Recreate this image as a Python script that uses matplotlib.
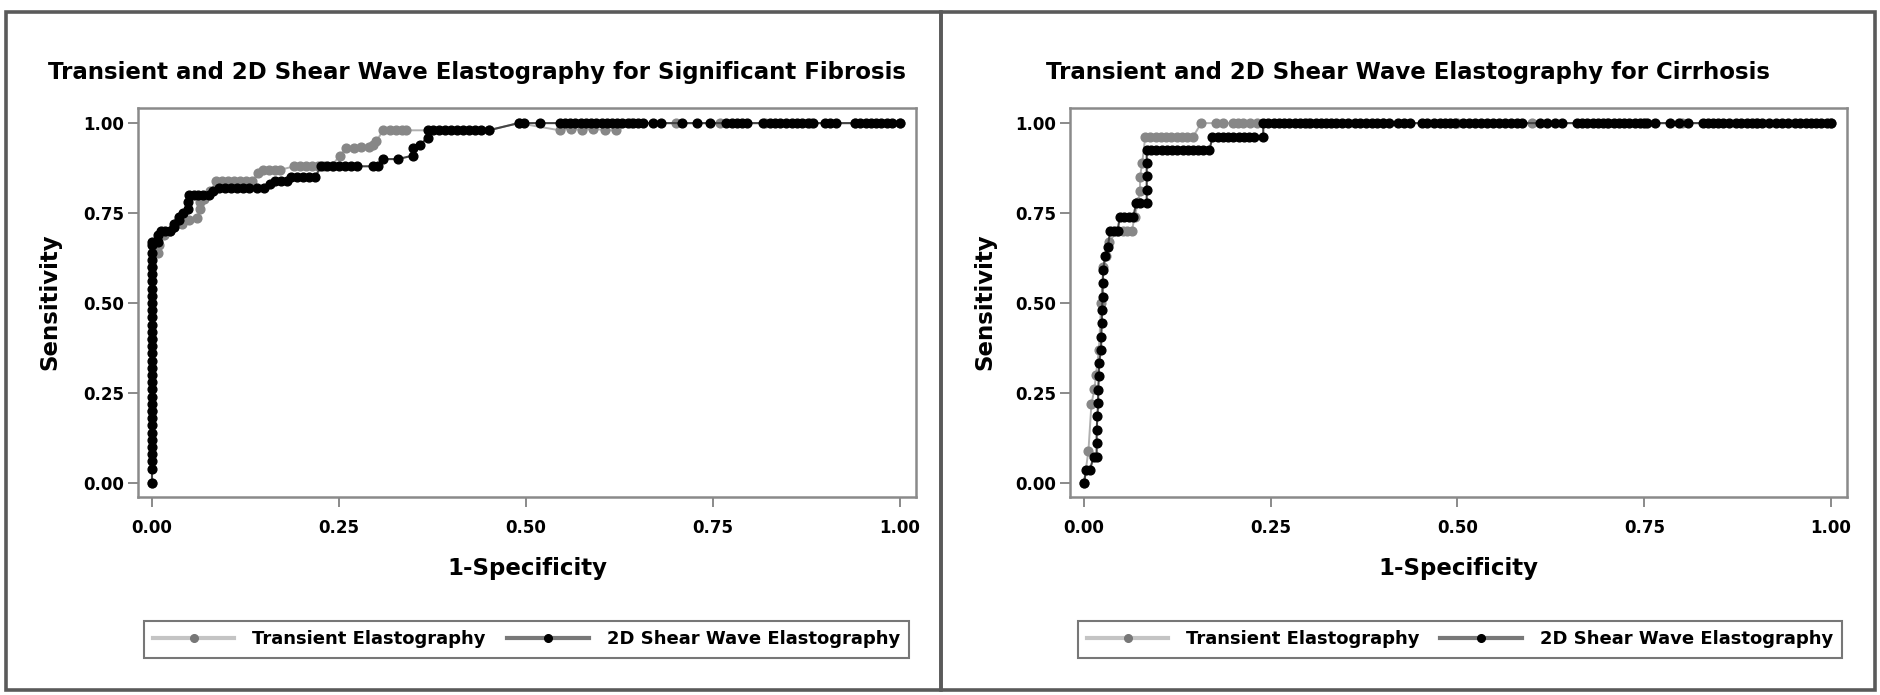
import matplotlib
matplotlib.use("Agg")
import matplotlib.pyplot as plt
from matplotlib.patches import Rectangle
from matplotlib.lines import Line2D

plt.rcParams['font.family'] = ['DejaVu Sans']
plt.rcParams['font.weight'] = 'bold'

W, H = 1881, 695

# ---- Significant fibrosis ----
sf_swe_x = [0.000, 0.000, 0.000, 0.000, 0.000, 0.000, 0.000, 0.000, 0.000, 0.000,
            0.000, 0.000, 0.000, 0.000, 0.000, 0.000, 0.000, 0.000, 0.000, 0.000,
            0.000, 0.000, 0.000, 0.000, 0.000, 0.000, 0.000, 0.000, 0.000, 0.000,
            0.000, 0.000, 0.000, 0.000,
            0.008, 0.008, 0.012, 0.018, 0.024, 0.030, 0.030, 0.036, 0.036, 0.042,
            0.048, 0.048, 0.050, 0.056, 0.062, 0.068, 0.076, 0.082, 0.090, 0.098,
            0.106, 0.114, 0.122, 0.130, 0.140, 0.150, 0.158, 0.165, 0.172, 0.180,
            0.186, 0.194, 0.202, 0.210, 0.218, 0.226, 0.234, 0.242, 0.250, 0.258,
            0.266, 0.274, 0.296, 0.302, 0.309, 0.329, 0.349, 0.349, 0.358, 0.369,
            0.369, 0.376, 0.384, 0.392, 0.400, 0.408, 0.416, 0.424, 0.432, 0.440,
            0.450, 0.490, 0.498, 0.519, 0.545, 0.552, 0.559, 0.566, 0.573, 0.580,
            0.587, 0.594, 0.601, 0.608, 0.615, 0.622, 0.629, 0.636, 0.643, 0.650,
            0.657, 0.670, 0.680, 0.708, 0.728, 0.746, 0.768, 0.775, 0.782, 0.789,
            0.795, 0.817, 0.826, 0.833, 0.840, 0.848, 0.855, 0.862, 0.869, 0.877,
            0.884, 0.900, 0.907, 0.915, 0.940, 0.947, 0.954, 0.961, 0.968, 0.975,
            0.982, 0.989, 1.000]
sf_swe_y = [0.00, 0.04, 0.06, 0.08, 0.10, 0.12, 0.14, 0.16, 0.18, 0.20,
            0.22, 0.24, 0.26, 0.28, 0.30, 0.32, 0.34, 0.36, 0.38, 0.40,
            0.42, 0.44, 0.46, 0.48, 0.50, 0.52, 0.54, 0.56, 0.58, 0.60,
            0.62, 0.64, 0.66, 0.67,
            0.67, 0.69, 0.70, 0.70, 0.70, 0.71, 0.72, 0.73, 0.74, 0.75,
            0.76, 0.78, 0.80, 0.80, 0.80, 0.80, 0.80, 0.81, 0.82, 0.82,
            0.82, 0.82, 0.82, 0.82, 0.82, 0.82, 0.83, 0.84, 0.84, 0.84,
            0.85, 0.85, 0.85, 0.85, 0.85, 0.88, 0.88, 0.88, 0.88, 0.88,
            0.88, 0.88, 0.88, 0.88, 0.90, 0.90, 0.91, 0.93, 0.94, 0.96,
            0.98, 0.98, 0.98, 0.98, 0.98, 0.98, 0.98, 0.98, 0.98, 0.98,
            0.98, 1.00, 1.00, 1.00, 1.00, 1.00, 1.00, 1.00, 1.00, 1.00,
            1.00, 1.00, 1.00, 1.00, 1.00, 1.00, 1.00, 1.00, 1.00, 1.00,
            1.00, 1.00, 1.00, 1.00, 1.00, 1.00, 1.00, 1.00, 1.00, 1.00,
            1.00, 1.00, 1.00, 1.00, 1.00, 1.00, 1.00, 1.00, 1.00, 1.00,
            1.00, 1.00, 1.00, 1.00, 1.00, 1.00, 1.00, 1.00, 1.00, 1.00,
            1.00, 1.00, 1.00]

sf_te_x = [0.000, 0.000, 0.000, 0.000, 0.008, 0.010, 0.016, 0.024, 0.030, 0.040,
           0.050, 0.060, 0.064, 0.064, 0.070, 0.078, 0.086, 0.094, 0.102, 0.110,
           0.118, 0.126, 0.134, 0.142, 0.148, 0.156, 0.165, 0.171, 0.190, 0.198,
           0.206, 0.214, 0.222, 0.230, 0.240, 0.251, 0.260, 0.270, 0.280, 0.290,
           0.296, 0.300, 0.309, 0.318, 0.326, 0.334, 0.340, 0.450, 0.490, 0.545,
           0.560, 0.575, 0.590, 0.605, 0.620, 0.640, 0.700, 0.760, 0.820, 0.880,
           0.940, 1.000]
sf_te_y = [0.00, 0.20, 0.40, 0.60, 0.64, 0.66, 0.69, 0.70, 0.71, 0.72,
           0.73, 0.735, 0.76, 0.78, 0.79, 0.81, 0.84, 0.84, 0.84, 0.84,
           0.84, 0.84, 0.84, 0.86, 0.87, 0.87, 0.87, 0.87, 0.88, 0.88,
           0.88, 0.88, 0.88, 0.88, 0.88, 0.91, 0.93, 0.93, 0.935, 0.935,
           0.94, 0.95, 0.98, 0.98, 0.98, 0.98, 0.98, 0.98, 1.00, 0.98,
           0.985, 0.98, 0.985, 0.98, 0.98, 1.00, 1.00, 1.00, 1.00, 1.00,
           1.00, 1.00]

# ---- Cirrhosis ----
ci_swe_x = [0.000, 0.003, 0.008, 0.013, 0.017, 0.017, 0.017, 0.018, 0.019, 0.019,
            0.020, 0.020, 0.023, 0.023, 0.024, 0.024, 0.025, 0.025, 0.026, 0.028,
            0.032, 0.035, 0.040, 0.045, 0.048, 0.054, 0.060, 0.066, 0.070, 0.075,
            0.084, 0.084, 0.084, 0.084, 0.084, 0.090, 0.097, 0.104, 0.111, 0.118,
            0.125, 0.132, 0.139, 0.146, 0.153, 0.160, 0.168, 0.172, 0.179, 0.186,
            0.193, 0.200, 0.207, 0.214, 0.221, 0.228, 0.240, 0.240, 0.247, 0.254,
            0.261, 0.268, 0.275, 0.282, 0.289, 0.296, 0.303, 0.310, 0.317, 0.324,
            0.331, 0.338, 0.345, 0.353, 0.363, 0.370, 0.377, 0.385, 0.392, 0.400,
            0.408, 0.420, 0.428, 0.437, 0.452, 0.459, 0.469, 0.476, 0.483, 0.490,
            0.497, 0.507, 0.515, 0.523, 0.531, 0.539, 0.547, 0.555, 0.563, 0.571,
            0.579, 0.586, 0.610, 0.620, 0.630, 0.640, 0.660, 0.667, 0.674, 0.681,
            0.688, 0.695, 0.702, 0.709, 0.716, 0.723, 0.730, 0.737, 0.744, 0.750,
            0.754, 0.764, 0.784, 0.796, 0.809, 0.828, 0.835, 0.842, 0.849, 0.856,
            0.863, 0.873, 0.880, 0.887, 0.894, 0.901, 0.908, 0.917, 0.927, 0.934,
            0.942, 0.952, 0.959, 0.966, 0.973, 0.980, 0.987, 0.994, 1.000]
ci_swe_y = [0.000, 0.037, 0.037, 0.073, 0.073, 0.110, 0.148, 0.185, 0.222, 0.259,
            0.296, 0.333, 0.370, 0.407, 0.444, 0.481, 0.518, 0.555, 0.593, 0.630,
            0.656, 0.700, 0.700, 0.700, 0.740, 0.740, 0.740, 0.740, 0.778, 0.778,
            0.778, 0.815, 0.852, 0.889, 0.925, 0.925, 0.925, 0.925, 0.925, 0.925,
            0.925, 0.925, 0.925, 0.925, 0.925, 0.925, 0.925, 0.962, 0.962, 0.962,
            0.962, 0.962, 0.962, 0.962, 0.962, 0.962, 0.962, 1.000, 1.000, 1.000,
            1.000, 1.000, 1.000, 1.000, 1.000, 1.000, 1.000, 1.000, 1.000, 1.000,
            1.000, 1.000, 1.000, 1.000, 1.000, 1.000, 1.000, 1.000, 1.000, 1.000,
            1.000, 1.000, 1.000, 1.000, 1.000, 1.000, 1.000, 1.000, 1.000, 1.000,
            1.000, 1.000, 1.000, 1.000, 1.000, 1.000, 1.000, 1.000, 1.000, 1.000,
            1.000, 1.000, 1.000, 1.000, 1.000, 1.000, 1.000, 1.000, 1.000, 1.000,
            1.000, 1.000, 1.000, 1.000, 1.000, 1.000, 1.000, 1.000, 1.000, 1.000,
            1.000, 1.000, 1.000, 1.000, 1.000, 1.000, 1.000, 1.000, 1.000, 1.000,
            1.000, 1.000, 1.000, 1.000, 1.000, 1.000, 1.000, 1.000, 1.000, 1.000,
            1.000, 1.000, 1.000, 1.000, 1.000, 1.000, 1.000, 1.000, 1.000]

ci_te_x = [0.000, 0.006, 0.010, 0.014, 0.016, 0.020, 0.023, 0.026, 0.030, 0.034,
           0.044, 0.052, 0.058, 0.064, 0.068, 0.072, 0.075, 0.075, 0.078, 0.082,
           0.089, 0.096, 0.103, 0.110, 0.117, 0.124, 0.131, 0.138, 0.146, 0.157,
           0.177, 0.186, 0.200, 0.206, 0.213, 0.222, 0.231, 0.300, 0.400, 0.500,
           0.600, 0.700, 0.800, 0.900, 1.000]
ci_te_y = [0.000, 0.090, 0.220, 0.260, 0.300, 0.370, 0.500, 0.600, 0.630, 0.670,
           0.700, 0.700, 0.700, 0.700, 0.740, 0.780, 0.810, 0.850, 0.890, 0.962,
           0.962, 0.962, 0.962, 0.962, 0.962, 0.962, 0.962, 0.962, 0.962, 1.000,
           1.000, 1.000, 1.000, 1.000, 1.000, 1.000, 1.000, 1.000, 1.000, 1.000,
           1.000, 1.000, 1.000, 1.000, 1.000]

titles = ["Transient and 2D Shear Wave Elastography for Significant Fibrosis",
          "Transient and 2D Shear Wave Elastography for Cirrhosis"]
ticks = [0.00, 0.25, 0.50, 0.75, 1.00]
tick_labels = ["0.00", "0.25", "0.50", "0.75", "1.00"]
series_names = ["Transient Elastography", "2D Shear Wave Elastography"]

fig = plt.figure(figsize=(W / 100, H / 100), dpi=100)

# outer panel frames (pixel boxes)
for x0, x1 in [(6, 941), (941, 1875)]:
    fig.patches.append(Rectangle((x0 / W, 1 - 690 / H), (x1 - x0) / W, (690 - 12) / H,
                                 transform=fig.transFigure, fill=False,
                                 edgecolor='#5a5a5a', lw=2.6))

panels = [
    dict(ax_px=(138, 916), te=(sf_te_x, sf_te_y), swe=(sf_swe_x, sf_swe_y),
         leg=(144, 909), title_x=48),
    dict(ax_px=(1070, 1847), te=(ci_te_x, ci_te_y), swe=(ci_swe_x, ci_swe_y),
         leg=(1078, 1842), title_x=1046),
]

top, bottom = 108, 497
for i, p in enumerate(panels):
    l, r = p['ax_px']
    ax = fig.add_axes([l / W, 1 - bottom / H, (r - l) / W, (bottom - top) / H])
    ax.plot(p['te'][0], p['te'][1], color='#b0b0b0', lw=1.4, marker='o', ms=6.3,
            mfc='#878787', mec='#878787', zorder=2)
    ax.plot(p['swe'][0], p['swe'][1], color='#444444', lw=1.5, marker='o', ms=6.3,
            mfc='black', mec='black', zorder=3)
    ax.set_xlim(-0.0187, 1.0214)
    ax.set_ylim(-0.039, 1.042)
    ax.set_xticks(ticks)
    ax.set_xticklabels(tick_labels)
    ax.set_yticks(ticks)
    ax.set_yticklabels(tick_labels)
    ax.tick_params(axis='x', length=7, width=1.2, color='#777777', pad=9, labelsize=12)
    ax.tick_params(axis='y', length=7, width=1.2, color='#777777', pad=3, labelsize=12)
    for s in ax.spines.values():
        s.set_color('#8a8a8a')
        s.set_linewidth(1.8)

    aw, ah = r - l, bottom - top
    ax.set_xlabel("1-Specificity", fontsize=16.5, fontweight='bold')
    ax.set_ylabel("Sensitivity", fontsize=16.5, fontweight='bold')
    ax.xaxis.set_label_coords(0.5, (bottom - 568) / ah)
    ax.xaxis.label.set_va('center')
    ax.yaxis.set_label_coords(-88 / aw if i == 0 else (985 - l) / aw,
                              (bottom - 302) / ah)
    ax.yaxis.label.set_va('center')
    ax.yaxis.label.set_ha('center')

    fig.text(p['title_x'] / W, 1 - 72 / H, titles[i], fontsize=16.5, fontweight='bold',
             ha='left', va='center')

    handles = [Line2D([], [], color='#c4c4c4', lw=3, marker='o', ms=5.5,
                      mfc='#777777', mec='#777777'),
               Line2D([], [], color='#787878', lw=3, marker='o', ms=5.5,
                      mfc='black', mec='black')]
    lx0, lx1 = p['leg']
    leg = fig.legend(handles, series_names, ncol=2, loc='center', mode='expand',
                     bbox_to_anchor=(lx0 / W, 1 - 662 / H, (lx1 - lx0) / W, 45 / H),
                     prop={'weight': 'bold', 'size': 13}, frameon=True,
                     fancybox=False, handlelength=4.5, columnspacing=1.5,
                     borderpad=0.5, handletextpad=1.0, borderaxespad=0)
    leg.get_frame().set_edgecolor('#555555')
    leg.get_frame().set_linewidth(1.5)

fig.savefig("out.png", dpi=100, facecolor='white')
